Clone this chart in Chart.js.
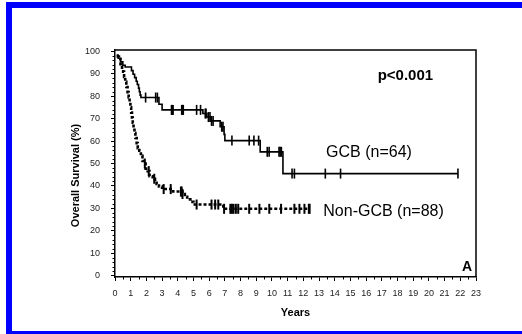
<!DOCTYPE html>
<html>
<head>
<meta charset="utf-8">
<script src="https://cdn.jsdelivr.net/npm/chart.js@4/dist/chart.umd.min.js"></script>
<style>
  html, body { margin: 0; padding: 0; background: #fff; }
  #wrap { position: relative; width: 522px; height: 334px; overflow: hidden; background: #fff; }
  #frame { position: absolute; left: 6px; top: 2px; width: 600px; height: 323px; border: 6px solid #0000ff; pointer-events: none; }
  canvas { position: absolute; left: 0; top: 0; }
</style>
</head>
<body>
<div id="wrap">
  <canvas id="c" width="522" height="334"></canvas>
  <div id="frame"></div>
</div>
<script>
// ---- Data (years, overall survival %) ----
const xTickLabels = ['0','1','2','3','4','5','6','7','8','9','10','11','12','13','14','15','16','17','18','19','20','21','22','23'];
const yTickValues = [0,10,20,30,40,50,60,70,80,90,100];

// GCB (n=64) Kaplan-Meier step points
const gcbTimes = [0.1, 0.2, 0.35, 0.5, 0.65, 1.05, 1.15, 1.25, 1.35, 1.42, 1.5, 1.55, 1.6, 1.65, 2.8, 3.0, 5.6, 5.85, 6.1, 6.7, 6.95, 7.0, 9.25, 10.7, 21.85];
const gcbSurv  = [98.4, 96.9, 95.3, 93.8, 93.0, 91.4, 89.8, 88.3, 86.7, 85.2, 83.6, 82.0, 80.5, 79.4, 76.4, 73.9, 72.3, 70.7, 69.0, 66.4, 63.0, 60.2, 55.2, 45.5, 45.5];
// GCB censored observations
const gcbCensorTimes = [1.95, 2.59, 2.7, 3.6, 3.65, 3.7, 4.25, 4.3, 4.35, 5.2, 5.45, 5.75, 5.8, 5.95, 6.05, 6.15, 6.25, 6.8, 6.88, 7.45, 8.55, 8.85, 9.15, 9.7, 9.82, 10.45, 10.52, 10.6, 11.28, 11.43, 13.4, 14.37, 21.85];
const gcbCensorSurv  = [79.4, 79.4, 79.4, 73.9, 73.9, 73.9, 73.9, 73.9, 73.9, 73.9, 73.9, 72.3, 72.3, 70.7, 70.7, 69.0, 69.0, 66.4, 66.4, 60.2, 60.2, 60.2, 60.2, 55.2, 55.2, 55.2, 55.2, 55.2, 45.5, 45.5, 45.5, 45.5, 45.5];

// Non-GCB (n=88) Kaplan-Meier step points
const nonTimes = [0.1, 0.25, 0.35, 0.45, 0.52, 0.58, 0.65, 0.72, 0.8, 0.87, 0.93, 0.98, 1.03, 1.08, 1.13, 1.18, 1.24, 1.3, 1.38, 1.45, 1.55, 1.65, 1.75, 1.84, 1.95, 2.08, 2.2, 2.4, 2.55, 2.65, 2.8, 3.0, 3.7, 4.3, 4.45, 4.6, 4.8, 5.0, 6.9, 12.4];
const nonSurv  = [97.7, 96.6, 94.3, 92.0, 90.9, 88.6, 86.4, 84.1, 81.8, 79.5, 77.3, 75.0, 72.7, 70.5, 68.2, 65.9, 63.6, 61.4, 59.1, 56.8, 55.7, 53.4, 51.1, 50.0, 47.7, 46.6, 44.3, 43.2, 42.0, 40.9, 39.8, 38.6, 37.5, 36.4, 35.2, 34.0, 32.9, 31.7, 29.8, 29.8];
// Non-GCB censored observations
const nonCensorTimes = [1.9, 2.15, 2.5, 3.1, 3.55, 4.2, 4.25, 4.3, 5.2, 6.15, 6.38, 6.58, 6.95, 7.35, 7.45, 7.55, 7.7, 7.85, 8.55, 9.2, 9.83, 10.58, 11.43, 11.75, 12.07, 12.35, 12.4];
const nonCensorSurv  = [50.0, 46.6, 43.2, 38.6, 38.6, 37.5, 37.5, 36.4, 31.7, 31.7, 31.7, 31.7, 29.8, 29.8, 29.8, 29.8, 29.8, 29.8, 29.8, 29.8, 29.8, 29.8, 29.8, 29.8, 29.8, 29.8, 29.8];

const pts = (xs, ys) => xs.map((x, i) => ({x, y: ys[i]}));

const FONT = "'Liberation Sans', Arial, sans-serif";

const decorPlugin = {
  id: 'decor',
  afterDraw(chart) {
    const {ctx, chartArea: a, scales} = chart;
    const xs = scales.x, ys = scales.y;
    ctx.save();
    // plot box top/right
    ctx.strokeStyle = '#000';
    ctx.lineWidth = 1.5;
    ctx.beginPath();
    ctx.moveTo(a.left, a.top);
    ctx.lineTo(a.right, a.top);
    ctx.lineTo(a.right, a.bottom);
    ctx.stroke();
    // minor ticks
    ctx.lineWidth = 1;
    ctx.beginPath();
    for (let v = 0.5; v < 23; v += 1) {
      const px = Math.round(xs.getPixelForValue(v)) + 0.5;
      ctx.moveTo(px, a.bottom);
      ctx.lineTo(px, a.bottom + 2.5);
    }
    for (let v = 0; v <= 100; v += 2) {
      if (v % 10 === 0) continue;
      const py = Math.round(ys.getPixelForValue(v)) + 0.5;
      ctx.moveTo(a.left, py);
      ctx.lineTo(a.left - 2.5, py);
    }
    ctx.stroke();
    // annotations
    ctx.fillStyle = '#000';
    ctx.textBaseline = 'middle';
    ctx.textAlign = 'center';
    ctx.font = 'bold 15px ' + FONT;
    ctx.fillText('p<0.001', xs.getPixelForValue(18.5), ys.getPixelForValue(89));
    ctx.textAlign = 'left';
    ctx.font = '16px ' + FONT;
    ctx.fillText('GCB (n=64)', xs.getPixelForValue(13.45), ys.getPixelForValue(54.8));
    ctx.fillText('Non-GCB (n=88)', xs.getPixelForValue(13.27), ys.getPixelForValue(28.4));
    ctx.textAlign = 'right';
    ctx.font = 'bold 14px ' + FONT;
    ctx.fillText('A', xs.getPixelForValue(22.75), ys.getPixelForValue(3.9));
    // y axis title
    ctx.translate(a.left - 39, (a.top + a.bottom) / 2 + 12);
    ctx.rotate(-Math.PI / 2);
    ctx.textAlign = 'center';
    ctx.font = 'bold 11px ' + FONT;
    ctx.fillText('Overall Survival (%)', 0, 0);
    ctx.restore();
  }
};

new Chart(document.getElementById('c'), {
  type: 'line',
  data: {
    datasets: [
      {
        label: 'GCB (n=64)',
        data: pts(gcbTimes, gcbSurv),
        stepped: 'before',
        borderColor: '#000',
        borderWidth: 1.6,
        pointRadius: 0,
        fill: false
      },
      {
        label: 'Non-GCB (n=88)',
        data: pts(nonTimes, nonSurv),
        stepped: 'before',
        borderColor: '#000',
        borderWidth: 2.6,
        borderDash: [3, 2],
        pointRadius: 0,
        fill: false
      },
      {
        label: 'GCB censored',
        data: pts(gcbCensorTimes, gcbCensorSurv),
        showLine: false,
        pointStyle: 'line',
        rotation: 90,
        pointRadius: 5,
        borderColor: '#000',
        pointBorderWidth: 1.6
      },
      {
        label: 'Non-GCB censored',
        data: pts(nonCensorTimes, nonCensorSurv),
        showLine: false,
        pointStyle: 'line',
        rotation: 90,
        pointRadius: 5,
        borderColor: '#000',
        pointBorderWidth: 2
      }
    ]
  },
  options: {
    responsive: false,
    animation: false,
    events: [],
    layout: { padding: { left: 0, top: 50, right: 46, bottom: 14 } },
    plugins: { legend: { display: false }, tooltip: { enabled: false } },
    scales: {
      x: {
        type: 'linear',
        min: 0, max: 23,
        afterFit(scale) { scale.height = 43; },
        afterBuildTicks(scale) { scale.ticks = xTickLabels.map((_, i) => ({value: i})); },
        ticks: {
          autoSkip: false, maxRotation: 0, padding: 7,
          color: '#222', font: { family: FONT, size: 9 },
          callback: (v, i) => xTickLabels[i]
        },
        grid: { drawOnChartArea: false, drawTicks: true, tickLength: 4, tickColor: '#000', tickWidth: 1 },
        border: { display: true, color: '#000', width: 1.5 },
        title: { display: true, text: 'Years', color: '#000', font: { family: FONT, size: 11, weight: 'bold' }, padding: { top: 0, bottom: 0 } }
      },
      y: {
        type: 'linear',
        min: -0.6, max: 100.6,
        afterFit(scale) { scale.width = 115; },
        afterBuildTicks(scale) { scale.ticks = yTickValues.map(v => ({value: v})); },
        ticks: {
          padding: 11, color: '#222', font: { family: FONT, size: 9 },
          callback: v => String(v)
        },
        grid: { drawOnChartArea: false, drawTicks: true, tickLength: 4, tickColor: '#000', tickWidth: 1 },
        border: { display: true, color: '#000', width: 1.5 }
      }
    }
  },
  plugins: [decorPlugin]
});
</script>
</body>
</html>
